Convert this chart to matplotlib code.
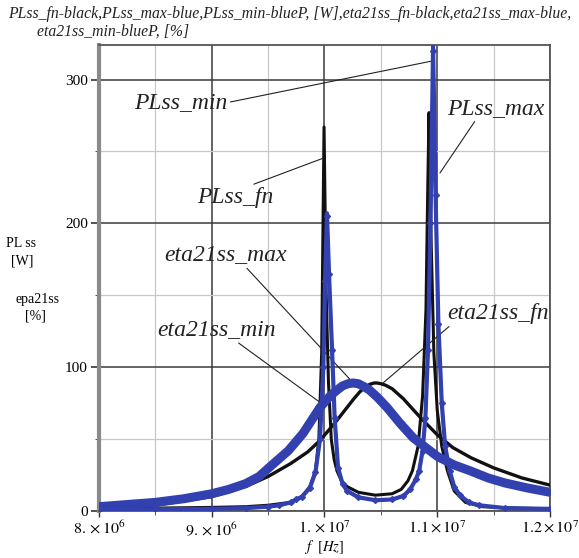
import matplotlib.pyplot as plt
from matplotlib.ticker import MultipleLocator, FixedLocator

plt.rcParams['font.family'] = ['Liberation Serif', 'DejaVu Serif']
plt.rcParams['mathtext.fontset'] = 'stix'

# frequencies in units of 1e6 Hz
f_pl_fn = [8.0, 8.5, 9.0, 9.3, 9.5, 9.6, 9.7, 9.75, 9.8, 9.87, 9.92,
           9.95, 9.975, 9.996, 10.015, 10.035, 10.06, 10.085, 10.11, 10.15, 10.2,
           10.3, 10.45, 10.6, 10.68, 10.74, 10.78, 10.83, 10.87, 10.9, 10.915,
           10.927, 10.945, 10.97, 11.0, 11.04, 11.09, 11.15, 11.25, 11.4, 11.7, 12.0]
pl_fn = [1.5, 2, 2.5, 3, 4, 5, 6, 8, 10, 17, 28,
         50, 110, 267, 150, 90, 50, 36, 28, 21, 17,
         13, 11, 12, 15, 21, 28, 45, 80, 140, 220,
         277, 190, 110, 70, 45, 28, 14, 6, 3, 2, 1.5]

f_pl_b = [8.0, 8.5, 9.0, 9.3, 9.5, 9.6, 9.7, 9.75, 9.8, 9.87, 9.92,
          9.96, 9.99, 10.005, 10.022, 10.04, 10.067, 10.09, 10.12, 10.16, 10.2,
          10.3, 10.45, 10.6, 10.7, 10.76, 10.81, 10.84, 10.87, 10.895, 10.918,
          10.94, 10.963, 10.985, 11.01, 11.04, 11.07, 11.11, 11.15, 11.2, 11.28,
          11.37, 11.6, 12.0]
pl_max = [1, 1.2, 1.5, 2, 3, 4, 6, 8, 10, 16, 27,
          50, 100, 160, 207, 165, 112, 65, 30, 19, 14,
          9.5, 7.5, 8, 10.5, 15, 22, 28, 42, 65, 112,
          200, 323, 220, 130, 75, 45, 28, 17, 11, 6,
          4, 2, 1.5]
pl_min = [1, 1.2, 1.5, 2, 3, 4, 6, 8, 10, 16, 27,
          50, 100, 160, 205, 165, 112, 65, 30, 19, 14,
          9.5, 7.5, 8, 10.5, 15, 22, 28, 42, 65, 112,
          200, 320, 220, 130, 75, 45, 28, 17, 11, 6,
          4, 2, 1.5]

f_eta_fn = [8.0, 8.5, 9.0, 9.3, 9.5, 9.7, 9.85, 9.96, 10.1, 10.2,
            10.26, 10.315, 10.36, 10.4, 10.44, 10.466, 10.5, 10.54, 10.6, 10.7,
            10.85, 11.0, 11.14, 11.3, 11.5, 11.75, 12.0]
eta_fn = [1.5, 4, 10, 17, 24, 33, 41, 49, 62, 72,
          78, 83, 86, 88, 89, 89, 88.5, 87.5, 85, 78,
          65, 53, 44, 37, 30, 23, 18]

f_eta_b = [8.0, 8.25, 8.5, 8.75, 9.0, 9.15, 9.3, 9.42, 9.52, 9.68, 9.81,
           9.96, 10.05, 10.11, 10.16, 10.21, 10.253, 10.3, 10.35, 10.4, 10.47,
           10.554, 10.67, 10.785, 10.9, 11.0, 11.15, 11.29, 11.45, 11.6, 11.8, 12.0]
eta_max = [3, 4.5, 6, 8.5, 12, 15, 19, 24, 31, 42, 54,
           72, 80, 84, 87, 88.5, 89, 88.5, 86.5, 84, 79,
           72, 61, 51, 44, 38, 32, 28, 23, 19.5, 16, 13]
eta_min = [3, 4.5, 6, 8.5, 12, 15, 19, 24, 31, 42, 54,
           72, 80, 84, 87, 88.5, 89, 88.5, 86.5, 84, 79,
           72, 61, 51, 44, 38, 32, 28, 23, 19.5, 16, 13]

xticks = [8e6, 9e6, 1e7, 1.1e7, 1.2e7]
xtick_labels = [r'$8.\times10^{6}$', r'$9.\times10^{6}$', r'$1.\times10^{7}$',
                r'$1.1\times10^{7}$', r'$1.2\times10^{7}$']
yticks = [0, 100, 200, 300]

black = '#111111'
blue = '#3341b0'

W, H = 579, 558
fig = plt.figure(figsize=(W / 100, H / 100), dpi=100)
ax = fig.add_axes([99 / W, 47 / H, 451 / W, 466 / H])

hz = lambda v: [x * 1e6 for x in v]

ax.plot(hz(f_pl_fn), pl_fn, color=black, lw=2.2, zorder=3)
ax.plot(hz(f_eta_fn), eta_fn, color=black, lw=2.4, zorder=3)
ax.plot(hz(f_pl_b), pl_max, color=blue, lw=3, zorder=4)
ax.plot(hz(f_pl_b), pl_min, color=blue, lw=2, marker='D', ms=3, zorder=4)
ax.plot(hz(f_eta_b), eta_max, color=blue, lw=6.5, zorder=4)
ax.plot(hz(f_eta_b), eta_min, color=blue, lw=4, marker='D', ms=3, zorder=4)

ax.set_xlim(8e6, 1.2e7)
ax.set_ylim(0, 324)
ax.xaxis.set_major_locator(FixedLocator(xticks))
ax.set_xticklabels(xtick_labels, fontsize=11.5)
ax.xaxis.set_minor_locator(MultipleLocator(5e5))
ax.yaxis.set_major_locator(FixedLocator(yticks))
ax.yaxis.set_minor_locator(MultipleLocator(50))
ax.tick_params(axis='y', which='major', labelsize=11, length=6, width=1.2, color='#333333', pad=2)
ax.tick_params(axis='y', which='minor', length=3, color='#333333')
ax.tick_params(axis='x', which='major', length=4, width=1, color='#333333', pad=3)
ax.tick_params(axis='x', which='minor', length=3, color='#333333')

ax.grid(True, which='major', color='#3a3a3a', lw=1.1, zorder=1)
ax.grid(True, which='minor', color='#c8c8c8', lw=0.9, zorder=0)
ax.set_axisbelow(True)

ax.spines['left'].set_color('#8a8a8a')
ax.spines['left'].set_linewidth(3)
for s in ['top', 'right', 'bottom']:
    ax.spines[s].set_color('#555555')
    ax.spines[s].set_linewidth(1.3)

ax.set_xlabel(r'$f\ \ [Hz]$', fontsize=10.5)
ax.xaxis.set_label_coords(0.5, -0.057)

fig.text(8 / W, 1 - 14 / H,
         'PLss_fn-black,PLss_max-blue,PLss_min-blueP, [W],eta21ss_fn-black,eta21ss_max-blue,',
         fontsize=11.3, style='italic', va='center', ha='left', color='#222222')
fig.text(37 / W, 1 - 32 / H, 'eta21ss_min-blueP, [%]',
         fontsize=11.3, style='italic', va='center', ha='left', color='#222222')

fig.text(21 / W, 1 - 243 / H, 'PL ss', fontsize=10, ha='center', va='center')
fig.text(22 / W, 1 - 261 / H, '[W]', fontsize=10, ha='center', va='center')
fig.text(37 / W, 1 - 299 / H, 'epa21ss', fontsize=10, ha='center', va='center')
fig.text(35 / W, 1 - 316 / H, '[%]', fontsize=10, ha='center', va='center')

ann = dict(fontsize=17, style='italic', color='#222222', ha='center', va='center')
lp = dict(arrowstyle='-', color='#222222', lw=0.8, shrinkA=0, shrinkB=0)
ax.annotate('PLss_min', xy=(10.962e6, 313), xytext=(8.727e6, 284),
            arrowprops=dict(lp, relpos=(1, 0.5)), **ann)
ax.annotate('PLss_fn', xy=(9.978e6, 245), xytext=(9.206e6, 218),
            arrowprops=dict(lp, relpos=(0.65, 1)), **ann)
ax.annotate('PLss_max', xy=(11.024e6, 235), xytext=(11.521e6, 280),
            arrowprops=dict(lp, relpos=(0.3, 0)), **ann)
ax.annotate('eta21ss_max', xy=(10.244e6, 90), xytext=(9.126e6, 178),
            arrowprops=dict(lp, relpos=(0.65, 0)), **ann)
ax.annotate('eta21ss_min', xy=(9.987e6, 74), xytext=(9.047e6, 126),
            arrowprops=dict(lp, relpos=(0.65, 0)), **ann)
ax.annotate('eta21ss_fn', xy=(10.519e6, 89), xytext=(11.539e6, 137.5),
            arrowprops=dict(lp, relpos=(0.05, 0)), **ann)

fig.savefig('out.png', dpi=100)
